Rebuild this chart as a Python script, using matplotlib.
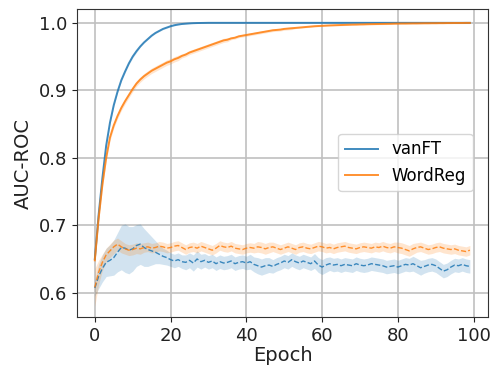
import numpy as np
import matplotlib
matplotlib.use("Agg")
import matplotlib.pyplot as plt

# epochs 0..99
epochs = np.arange(100)

# training AUC-ROC (solid lines)
van_train = [0.650, 0.715, 0.770, 0.818, 0.852, 0.878, 0.898, 0.915, 0.928, 0.940,
             0.950, 0.958, 0.965, 0.971, 0.976, 0.981, 0.985, 0.988, 0.991, 0.993,
             0.995, 0.9965, 0.9975, 0.9983, 0.9988, 0.9992, 0.9995, 0.9997, 0.9998, 0.9999,
             1.0, 1.0, 1.0, 1.0, 1.0, 1.0, 1.0, 1.0, 1.0, 1.0,
             1.0, 1.0, 1.0, 1.0, 1.0, 1.0, 1.0, 1.0, 1.0, 1.0,
             1.0, 1.0, 1.0, 1.0, 1.0, 1.0, 1.0, 1.0, 1.0, 1.0,
             1.0, 1.0, 1.0, 1.0, 1.0, 1.0, 1.0, 1.0, 1.0, 1.0,
             1.0, 1.0, 1.0, 1.0, 1.0, 1.0, 1.0, 1.0, 1.0, 1.0,
             1.0, 1.0, 1.0, 1.0, 1.0, 1.0, 1.0, 1.0, 1.0, 1.0,
             1.0, 1.0, 1.0, 1.0, 1.0, 1.0, 1.0, 1.0, 1.0, 1.0]
van_train_sd = [0.004, 0.004, 0.004, 0.003, 0.003, 0.003, 0.002, 0.002, 0.002, 0.002,
                0.002, 0.002, 0.001, 0.001, 0.001, 0.001, 0.001, 0.001, 0.001, 0.001,
                0.001, 0.001, 0.0005, 0.0005, 0.0005, 0.0003, 0.0003, 0.0002, 0.0001, 0.0001,
                0, 0, 0, 0, 0, 0, 0, 0, 0, 0,
                0, 0, 0, 0, 0, 0, 0, 0, 0, 0,
                0, 0, 0, 0, 0, 0, 0, 0, 0, 0,
                0, 0, 0, 0, 0, 0, 0, 0, 0, 0,
                0, 0, 0, 0, 0, 0, 0, 0, 0, 0,
                0, 0, 0, 0, 0, 0, 0, 0, 0, 0,
                0, 0, 0, 0, 0, 0, 0, 0, 0, 0]

reg_train = [0.648, 0.710, 0.760, 0.800, 0.830, 0.848, 0.862, 0.874, 0.884, 0.893,
             0.902, 0.910, 0.916, 0.921, 0.925, 0.929, 0.932, 0.935, 0.938, 0.941,
             0.943, 0.946, 0.948, 0.951, 0.953, 0.956, 0.958, 0.960, 0.962, 0.964,
             0.966, 0.968, 0.970, 0.972, 0.974, 0.975, 0.977, 0.978, 0.980, 0.981,
             0.982, 0.983, 0.984, 0.985, 0.986, 0.987, 0.988, 0.989, 0.9895, 0.990,
             0.991, 0.9915, 0.992, 0.9925, 0.993, 0.9935, 0.994, 0.9945, 0.995, 0.9953,
             0.9956, 0.9959, 0.9962, 0.9964, 0.9966, 0.9968, 0.9970, 0.9972, 0.9974, 0.9975,
             0.9977, 0.9978, 0.9980, 0.9981, 0.9982, 0.9983, 0.9984, 0.9985, 0.9986, 0.9988,
             0.9989, 0.9990, 0.9990, 0.9991, 0.9992, 0.9992, 0.9993, 0.9994, 0.9994, 0.9995,
             0.9995, 0.9996, 0.9996, 0.9997, 0.9997, 0.9998, 0.9998, 0.9998, 0.9999, 0.9999]
reg_train_sd = [0.006, 0.006, 0.005, 0.005, 0.005, 0.004, 0.004, 0.004, 0.004, 0.004,
                0.004, 0.004, 0.004, 0.004, 0.004, 0.004, 0.004, 0.004, 0.004, 0.004,
                0.004, 0.004, 0.004, 0.003, 0.003, 0.003, 0.003, 0.003, 0.003, 0.003,
                0.003, 0.003, 0.003, 0.003, 0.003, 0.003, 0.002, 0.002, 0.002, 0.002,
                0.002, 0.002, 0.002, 0.002, 0.002, 0.002, 0.002, 0.002, 0.002, 0.002,
                0.002, 0.002, 0.002, 0.001, 0.001, 0.001, 0.001, 0.001, 0.001, 0.001,
                0.001, 0.001, 0.001, 0.001, 0.001, 0.001, 0.001, 0.001, 0.001, 0.001,
                0.001, 0.001, 0.001, 0.001, 0.001, 0.001, 0.001, 0.001, 0.001, 0.001,
                0.001, 0.001, 0.001, 0.001, 0.001, 0.001, 0.001, 0.001, 0.001, 0.001,
                0.001, 0.001, 0.001, 0.001, 0.001, 0.001, 0.001, 0.001, 0.001, 0.001]

# test AUC-ROC (dashed lines)
van_test = [0.607, 0.624, 0.636, 0.645, 0.648, 0.652, 0.660, 0.667, 0.666, 0.663,
            0.665, 0.670, 0.672, 0.667, 0.664, 0.662, 0.660, 0.657, 0.654, 0.652,
            0.649, 0.647, 0.649, 0.646, 0.645, 0.648, 0.644, 0.650, 0.646, 0.648,
            0.645, 0.647, 0.643, 0.646, 0.644, 0.645, 0.647, 0.643, 0.645, 0.646,
            0.644, 0.646, 0.642, 0.640, 0.638, 0.640, 0.641, 0.639, 0.642, 0.644,
            0.647, 0.645, 0.649, 0.646, 0.644, 0.647, 0.645, 0.643, 0.647, 0.641,
            0.638, 0.641, 0.643, 0.641, 0.642, 0.640, 0.642, 0.641, 0.640, 0.643,
            0.641, 0.640, 0.641, 0.643, 0.642, 0.641, 0.640, 0.638, 0.639, 0.640,
            0.638, 0.640, 0.642, 0.641, 0.643, 0.640, 0.637, 0.639, 0.641, 0.642,
            0.640, 0.636, 0.632, 0.634, 0.638, 0.641, 0.640, 0.642, 0.640, 0.639]
van_test_sd = [0.012, 0.018, 0.020, 0.021, 0.023, 0.026, 0.029, 0.033, 0.036, 0.035,
               0.033, 0.031, 0.030, 0.028, 0.025, 0.021, 0.017, 0.014, 0.012, 0.011,
               0.010, 0.010, 0.010, 0.010, 0.011, 0.011, 0.012, 0.012, 0.011, 0.010,
               0.010, 0.010, 0.010, 0.010, 0.010, 0.010, 0.010, 0.010, 0.010, 0.010,
               0.010, 0.011, 0.011, 0.012, 0.012, 0.012, 0.011, 0.010, 0.010, 0.010,
               0.010, 0.010, 0.010, 0.010, 0.010, 0.010, 0.010, 0.010, 0.011, 0.011,
               0.011, 0.011, 0.010, 0.010, 0.010, 0.010, 0.010, 0.010, 0.010, 0.010,
               0.010, 0.010, 0.010, 0.010, 0.010, 0.010, 0.010, 0.010, 0.010, 0.010,
               0.010, 0.010, 0.010, 0.010, 0.011, 0.011, 0.011, 0.010, 0.010, 0.010,
               0.010, 0.010, 0.010, 0.010, 0.010, 0.010, 0.010, 0.010, 0.010, 0.010]

reg_test = [0.608, 0.630, 0.645, 0.656, 0.662, 0.668, 0.672, 0.668, 0.665, 0.663,
            0.664, 0.666, 0.665, 0.667, 0.668, 0.666, 0.667, 0.669, 0.668, 0.666,
            0.667, 0.669, 0.670, 0.667, 0.664, 0.667, 0.668, 0.666, 0.669, 0.667,
            0.665, 0.663, 0.666, 0.670, 0.668, 0.667, 0.669, 0.666, 0.665, 0.664,
            0.666, 0.667, 0.666, 0.668, 0.667, 0.665, 0.667, 0.668, 0.666, 0.664,
            0.666, 0.668, 0.666, 0.664, 0.667, 0.668, 0.666, 0.665, 0.667, 0.669,
            0.668, 0.666, 0.667, 0.665, 0.667, 0.668, 0.669, 0.667, 0.666, 0.665,
            0.667, 0.668, 0.667, 0.666, 0.668, 0.667, 0.669, 0.667, 0.666, 0.668,
            0.667, 0.666, 0.664, 0.662, 0.665, 0.667, 0.668, 0.666, 0.664, 0.665,
            0.667, 0.668, 0.666, 0.665, 0.664, 0.665, 0.663, 0.662, 0.661, 0.663]
reg_test_sd = [0.028, 0.018, 0.012, 0.010, 0.010, 0.010, 0.009, 0.009, 0.008, 0.008,
               0.008, 0.008, 0.008, 0.007, 0.007, 0.007, 0.007, 0.007, 0.007, 0.007,
               0.007, 0.007, 0.007, 0.007, 0.007, 0.007, 0.007, 0.007, 0.007, 0.007,
               0.007, 0.007, 0.007, 0.007, 0.007, 0.007, 0.007, 0.007, 0.007, 0.007,
               0.007, 0.007, 0.007, 0.008, 0.008, 0.008, 0.008, 0.007, 0.007, 0.007,
               0.007, 0.007, 0.007, 0.007, 0.007, 0.007, 0.007, 0.007, 0.007, 0.007,
               0.007, 0.007, 0.007, 0.007, 0.007, 0.007, 0.007, 0.007, 0.007, 0.007,
               0.007, 0.007, 0.007, 0.007, 0.007, 0.007, 0.007, 0.007, 0.007, 0.007,
               0.008, 0.008, 0.008, 0.008, 0.008, 0.007, 0.007, 0.007, 0.007, 0.007,
               0.007, 0.007, 0.007, 0.007, 0.007, 0.007, 0.007, 0.007, 0.007, 0.007]

blue = "#1f77b4"
orange = "#ff7f0e"

fig = plt.figure(figsize=(4.92, 3.68), dpi=100)
ax = fig.add_axes([0.1565, 0.1386, 0.8354, 0.836])

series = [
    (van_train, van_train_sd, blue, "-", "vanFT"),
    (reg_train, reg_train_sd, orange, "-", "WordReg"),
    (van_test, van_test_sd, blue, "--", None),
    (reg_test, reg_test_sd, orange, "--", None),
]
for mean, sd, c, ls, lab in series:
    mean = np.array(mean)
    sd = np.array(sd)
    ax.fill_between(epochs, mean - sd, mean + sd, color=c, alpha=0.2, linewidth=0)
    ax.plot(epochs, mean, color=c, linestyle=ls, alpha=0.85,
            linewidth=1.4 if ls == "-" else 1.0, label=lab)

ax.set_xlim(-4.7, 103.8)
ax.set_ylim(0.564, 1.020)
ax.set_xticks([0, 20, 40, 60, 80, 100])
ax.set_yticks([0.6, 0.7, 0.8, 0.9, 1.0])
ax.grid(True, color="#c0c0c0", linewidth=1.2)
ax.set_axisbelow(True)
for s in ax.spines.values():
    s.set_color("#333333")
ax.tick_params(labelsize=13, colors="#222222")
ax.set_xlabel("Epoch", fontsize=14, labelpad=1, color="#222222")
ax.set_ylabel("AUC-ROC", fontsize=14, color="#222222")
ax.legend(loc="center right", bbox_to_anchor=(0.983, 0.502), fontsize=12)

fig.savefig("out.png", dpi=100)
